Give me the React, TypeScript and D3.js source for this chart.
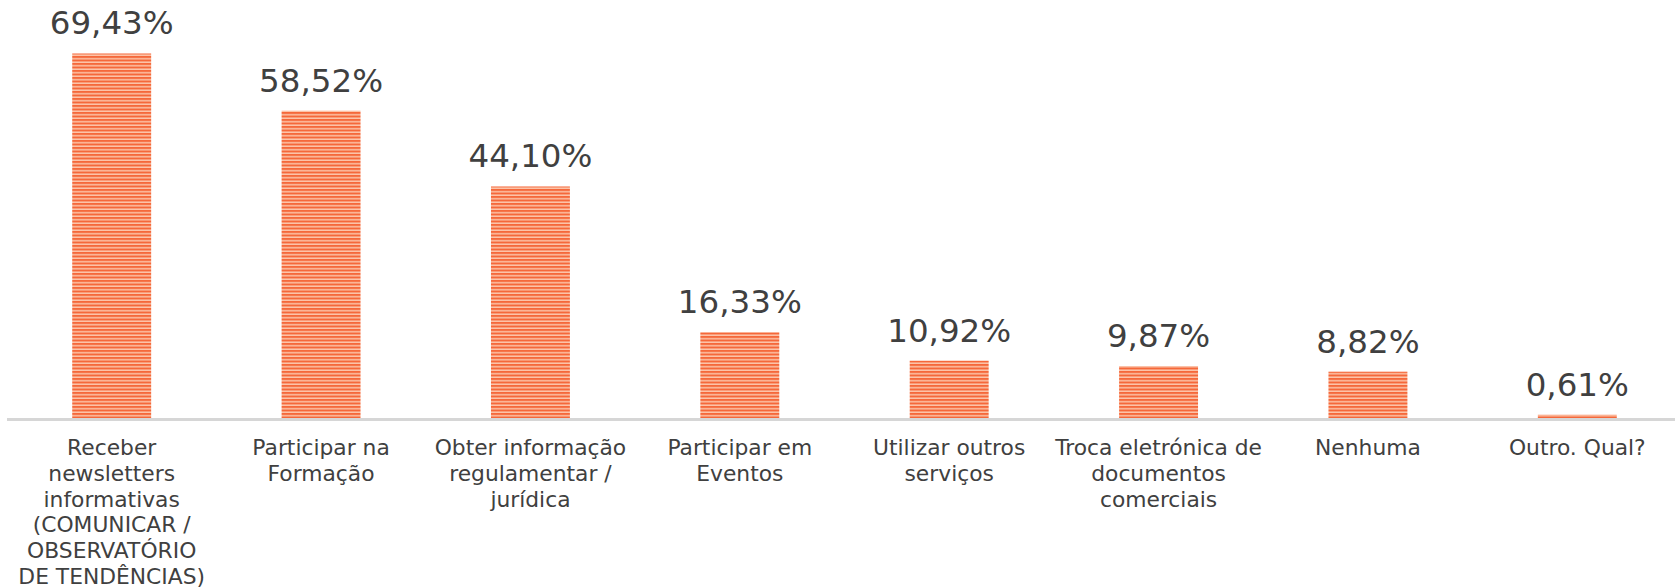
import React from 'react';
import * as d3 from 'd3';

// chart data
const categories = [
  'Receber newsletters informativas (COMUNICAR / OBSERVATÓRIO DE TENDÊNCIAS)',
  'Participar na Formação',
  'Obter informação regulamentar / jurídica',
  'Participar em Eventos',
  'Utilizar outros serviços',
  'Troca eletrónica de documentos comerciais',
  'Nenhuma',
  'Outro. Qual?',
];
const values = [69.43, 58.52, 44.1, 16.33, 10.92, 9.87, 8.82, 0.61];
const valueLabels = ['69,43%', '58,52%', '44,10%', '16,33%', '10,92%', '9,87%', '8,82%', '0,61%'];
const labelLines = [
  ['Receber', 'newsletters', 'informativas', '(COMUNICAR /', 'OBSERVATÓRIO', 'DE TENDÊNCIAS)'],
  ['Participar na', 'Formação'],
  ['Obter informação', 'regulamentar /', 'jurídica'],
  ['Participar em', 'Eventos'],
  ['Utilizar outros', 'serviços'],
  ['Troca eletrónica de', 'documentos', 'comerciais'],
  ['Nenhuma'],
  ['Outro. Qual?'],
];

const W = 1675;
const H = 588;
const baseY = 418;
const font = '"DejaVu Sans", Verdana, sans-serif';
const textColor = '#404040';

export default function App() {
  const x = d3.scaleBand<string>()
    .domain(categories)
    .range([7, 1682])
    .paddingInner(0.623)
    .paddingOuter(0.3115);

  const y = d3.scaleLinear()
    .domain([0, 80])
    .range([baseY, baseY - 80 * 5.25]);

  return (
    <svg width={W} height={H} style={{ position: 'absolute', left: 0, top: 0 }}>
      <defs>
        <pattern id="stripes" width={8} height={3.5} patternUnits="userSpaceOnUse">
          <rect width={8} height={3.5} fill="#fcc5aa" />
          <rect width={8} height={2} fill="#f5683a" />
        </pattern>
      </defs>
      <rect width={W} height={H} fill="#ffffff" />

      {values.map((v, i) => {
        const c = categories[i];
        const bx = x(c)!;
        const top = y(v);
        return (
          <g key={c}>
            <rect x={bx} y={top} width={x.bandwidth()} height={baseY - top} fill="url(#stripes)" />
            <text
              x={bx + x.bandwidth() / 2}
              y={top - 19}
              textAnchor="middle"
              fontFamily={font}
              fontSize={32.5}
              fill={textColor}
            >
              {valueLabels[i]}
            </text>
          </g>
        );
      })}

      <line x1={7} x2={W} y1={baseY + 1.5} y2={baseY + 1.5} stroke="#d6d6d6" strokeWidth={3} />

      {labelLines.map((lines, i) => (
        <text
          key={i}
          x={x(categories[i])! + x.bandwidth() / 2}
          y={455}
          textAnchor="middle"
          fontFamily={font}
          fontSize={21.8}
          fill={textColor}
        >
          {lines.map((l, j) => (
            <tspan key={j} x={x(categories[i])! + x.bandwidth() / 2} dy={j === 0 ? 0 : 25.8}>
              {l}
            </tspan>
          ))}
        </text>
      ))}
    </svg>
  );
}
